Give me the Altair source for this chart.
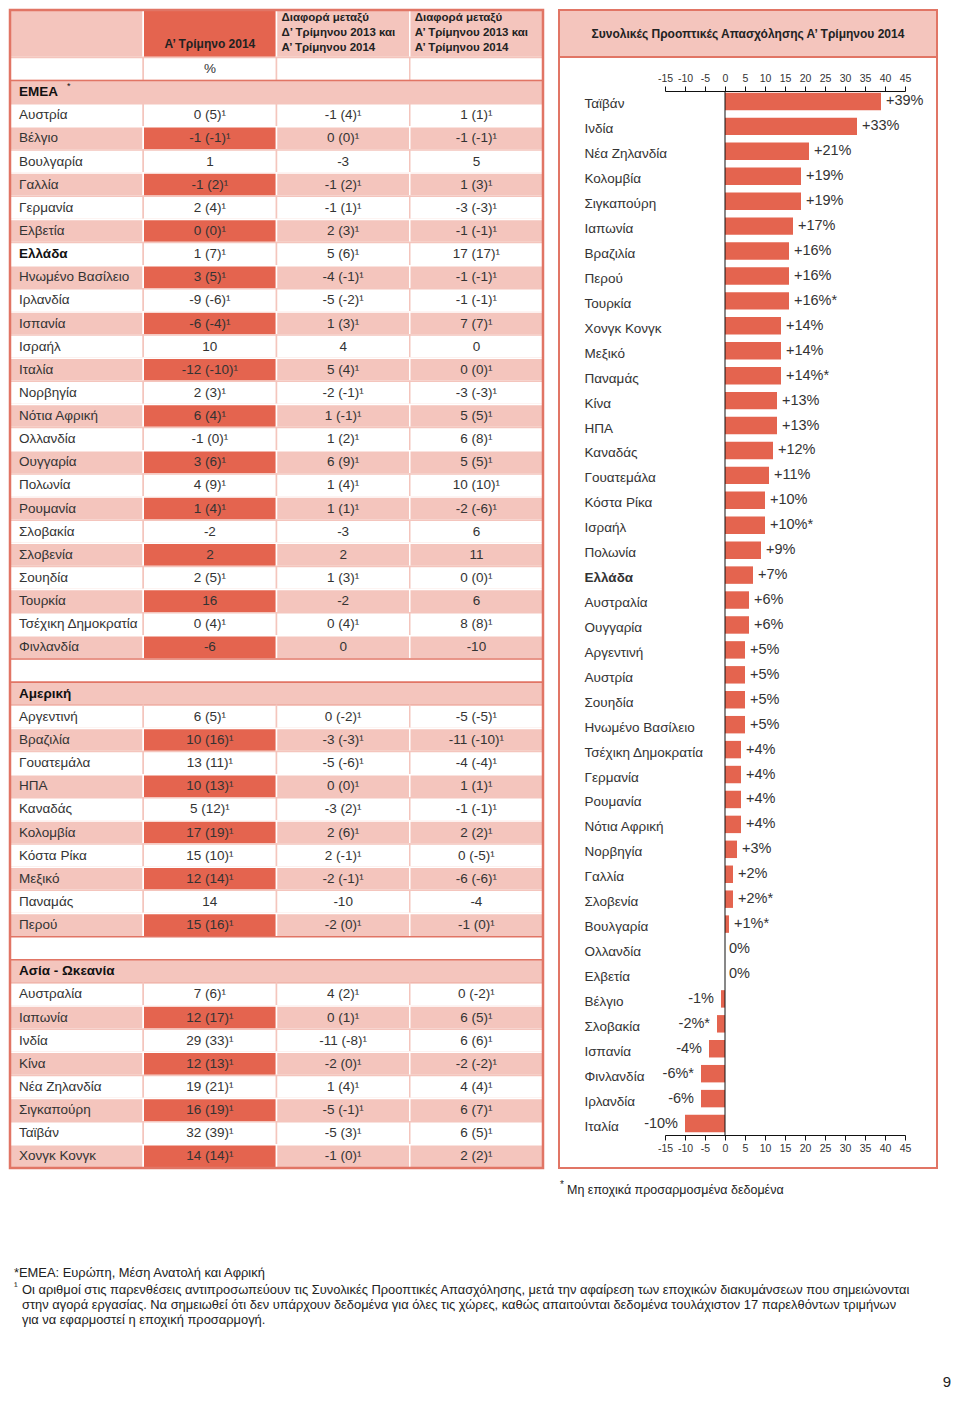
import altair as alt
import pandas as pd

FONT = "Liberation Sans"
DARK = "#E4644F"
PINK = "#F4C5BD"
RED = "#E17565"
TXT = "#333333"
WHITE = "#FFFFFF"

# ------------------------------------------------------------------ table data
section_names = ["EMEA", "Αμερική", "Ασία - Ωκεανία"]

emea_countries = ["Αυστρία", "Βέλγιο", "Βουλγαρία", "Γαλλία", "Γερμανία", "Ελβετία", "Ελλάδα",
                  "Ηνωμένο Βασίλειο", "Ιρλανδία", "Ισπανία", "Ισραήλ", "Ιταλία", "Νορβηγία",
                  "Νότια Αφρική", "Ολλανδία", "Ουγγαρία", "Πολωνία", "Ρουμανία", "Σλοβακία",
                  "Σλοβενία", "Σουηδία", "Τουρκία", "Τσέχικη Δημοκρατία", "Φινλανδία"]
emea_q1_2014 = ["0 (5)¹", "-1 (-1)¹", "1", "-1 (2)¹", "2 (4)¹", "0 (0)¹", "1 (7)¹", "3 (5)¹",
                "-9 (-6)¹", "-6 (-4)¹", "10", "-12 (-10)¹", "2 (3)¹", "6 (4)¹", "-1 (0)¹", "3 (6)¹",
                "4 (9)¹", "1 (4)¹", "-2", "2", "2 (5)¹", "16", "0 (4)¹", "-6"]
emea_diff_q4 = ["-1 (4)¹", "0 (0)¹", "-3", "-1 (2)¹", "-1 (1)¹", "2 (3)¹", "5 (6)¹", "-4 (-1)¹",
                "-5 (-2)¹", "1 (3)¹", "4", "5 (4)¹", "-2 (-1)¹", "1 (-1)¹", "1 (2)¹", "6 (9)¹",
                "1 (4)¹", "1 (1)¹", "-3", "2", "1 (3)¹", "-2", "0 (4)¹", "0"]
emea_diff_q1 = ["1 (1)¹", "-1 (-1)¹", "5", "1 (3)¹", "-3 (-3)¹", "-1 (-1)¹", "17 (17)¹", "-1 (-1)¹",
                "-1 (-1)¹", "7 (7)¹", "0", "0 (0)¹", "-3 (-3)¹", "5 (5)¹", "6 (8)¹", "5 (5)¹",
                "10 (10)¹", "-2 (-6)¹", "6", "11", "0 (0)¹", "6", "8 (8)¹", "-10"]

amer_countries = ["Αργεντινή", "Βραζιλία", "Γουατεμάλα", "ΗΠΑ", "Καναδάς", "Κολομβία",
                  "Κόστα Ρίκα", "Μεξικό", "Παναμάς", "Περού"]
amer_q1_2014 = ["6 (5)¹", "10 (16)¹", "13 (11)¹", "10 (13)¹", "5 (12)¹", "17 (19)¹", "15 (10)¹",
                "12 (14)¹", "14", "15 (16)¹"]
amer_diff_q4 = ["0 (-2)¹", "-3 (-3)¹", "-5 (-6)¹", "0 (0)¹", "-3 (2)¹", "2 (6)¹", "2 (-1)¹",
                "-2 (-1)¹", "-10", "-2 (0)¹"]
amer_diff_q1 = ["-5 (-5)¹", "-11 (-10)¹", "-4 (-4)¹", "1 (1)¹", "-1 (-1)¹", "2 (2)¹", "0 (-5)¹",
                "-6 (-6)¹", "-4", "-1 (0)¹"]

asia_countries = ["Αυστραλία", "Ιαπωνία", "Ινδία", "Κίνα", "Νέα Ζηλανδία", "Σιγκαπούρη",
                  "Ταϊβάν", "Χονγκ Κονγκ"]
asia_q1_2014 = ["7 (6)¹", "12 (17)¹", "29 (33)¹", "12 (13)¹", "19 (21)¹", "16 (19)¹", "32 (39)¹",
                "14 (14)¹"]
asia_diff_q4 = ["4 (2)¹", "0 (1)¹", "-11 (-8)¹", "-2 (0)¹", "1 (4)¹", "-5 (-1)¹", "-5 (3)¹",
                "-1 (0)¹"]
asia_diff_q1 = ["0 (-2)¹", "6 (5)¹", "6 (6)¹", "-2 (-2)¹", "4 (4)¹", "6 (7)¹", "6 (5)¹", "2 (2)¹"]

col_headers = ["", ["Α’ Τρίμηνο 2014"],
               ["Διαφορά μεταξύ", "Δ’ Τρίμηνου 2013 και", "Α’ Τρίμηνου 2014"],
               ["Διαφορά μεταξύ", "Α’ Τρίμηνου 2013 και", "Α’ Τρίμηνου 2014"]]
unit_label = "%"
bold_country = "Ελλάδα"

# ------------------------------------------------------------------ bar data
bar_title = "Συνολικές Προοπτικές Απασχόλησης Α’ Τρίμηνου 2014"
bar_countries = ["Ταϊβάν", "Ινδία", "Νέα Ζηλανδία", "Κολομβία", "Σιγκαπούρη", "Ιαπωνία",
                 "Βραζιλία", "Περού", "Τουρκία", "Χονγκ Κονγκ", "Μεξικό", "Παναμάς", "Κίνα", "ΗΠΑ",
                 "Καναδάς", "Γουατεμάλα", "Κόστα Ρίκα", "Ισραήλ", "Πολωνία", "Ελλάδα", "Αυστραλία",
                 "Ουγγαρία", "Αργεντινή", "Αυστρία", "Σουηδία", "Ηνωμένο Βασίλειο",
                 "Τσέχικη Δημοκρατία", "Γερμανία", "Ρουμανία", "Νότια Αφρική", "Νορβηγία", "Γαλλία",
                 "Σλοβενία", "Βουλγαρία", "Ολλανδία", "Ελβετία", "Βέλγιο", "Σλοβακία", "Ισπανία",
                 "Φινλανδία", "Ιρλανδία", "Ιταλία"]
bar_values = [39, 33, 21, 19, 19, 17, 16, 16, 16, 14, 14, 14, 13, 13, 12, 11, 10, 10, 9, 7, 6, 6,
              5, 5, 5, 5, 4, 4, 4, 4, 3, 2, 2, 1, 0, 0, -1, -2, -4, -6, -6, -10]
bar_not_adjusted = ["Τουρκία", "Παναμάς", "Ισραήλ", "Σλοβενία", "Βουλγαρία", "Σλοβακία", "Φινλανδία"]
x_ticks = [-15, -10, -5, 0, 5, 10, 15, 20, 25, 30, 35, 40, 45]

note_star = "Μη εποχικά προσαρμοσμένα δεδομένα"
foot_lines = [
    "*ΕΜΕΑ: Ευρώπη, Μέση Ανατολή και Αφρική",
    "Οι αριθμοί στις παρενθέσεις αντιπροσωπεύουν τις Συνολικές Προοπτικές Απασχόλησης, μετά την αφαίρεση των εποχικών διακυμάνσεων που σημειώνονται",
    "στην αγορά εργασίας. Να σημειωθεί ότι δεν υπάρχουν δεδομένα για όλες τις χώρες, καθώς απαιτούνται δεδομένα τουλάχιστον 17 παρελθόντων τριμήνων",
    "για να εφαρμοστεί η εποχική προσαρμογή.",
]
page_number = "9"

# ------------------------------------------------------------------ table build
HDR = 2.05
TW, TH = 533, 1158

groups = [
    (section_names[0], emea_countries, emea_q1_2014, emea_diff_q4, emea_diff_q1),
    (section_names[1], amer_countries, amer_q1_2014, amer_diff_q4, amer_diff_q1),
    (section_names[2], asia_countries, asia_q1_2014, asia_diff_q4, asia_diff_q1),
]
rows = [{"kind": "unit"}]
for g, (sec, names, a, b, c) in enumerate(groups):
    if g > 0:
        rows.append({"kind": "blank"})
    rows.append({"kind": "section", "label": sec})
    for k, n in enumerate(names):
        rows.append({"kind": "data", "label": n, "vals": [a[k], b[k], c[k]], "shade": k % 2 == 1})
NROWS = len(rows)
ROW_PX = TH / (NROWS + HDR)

cells, labels, values = [], [], []
for j in range(4):
    cells.append(dict(x0=j, x1=j + 1, y0=-HDR, y1=0, fill=DARK if j == 1 else PINK, stroke=WHITE))
for i, r in enumerate(rows):
    if r["kind"] in ("section", "blank"):
        cells.append(dict(x0=0, x1=4, y0=i, y1=i + 1,
                          fill=PINK if r["kind"] == "section" else WHITE, stroke=RED))
        if r["kind"] == "section":
            labels.append(dict(x=0, y=i + 0.5, text=r["label"], bold=True))
    elif r["kind"] == "unit":
        for j in range(4):
            cells.append(dict(x0=j, x1=j + 1, y0=i, y1=i + 1, fill=WHITE, stroke=PINK))
        values.append(dict(x=1.5, y=i + 0.5, text=unit_label))
    else:
        for j in range(4):
            if r["shade"]:
                f, s = (DARK if j == 1 else PINK), WHITE
            else:
                f, s = WHITE, PINK
            cells.append(dict(x0=j, x1=j + 1, y0=i, y1=i + 1, fill=f, stroke=s))
        labels.append(dict(x=0, y=i + 0.5, text=r["label"], bold=r["label"] == bold_country))
        for j, v in enumerate(r["vals"]):
            values.append(dict(x=j + 1.5, y=i + 0.5, text=v))

# header lines: stacked upward from the header's bottom edge (15 px apart, last 9 px up)
hdr_rows = []
hdr_rows.append(dict(x=1.5, y=-13 / ROW_PX, text=col_headers[1][0], align="center"))
for j in (2, 3):
    n = len(col_headers[j])
    for k, line in enumerate(col_headers[j]):
        up = 9 + 15 * (n - 1 - k)
        hdr_rows.append(dict(x=j, y=-up / ROW_PX, text=line, align="left"))

cells_df = pd.DataFrame(cells)
labels_df = pd.DataFrame(labels)
values_df = pd.DataFrame(values)
hdr_df = pd.DataFrame(hdr_rows)
emea_row = next(i for i, r in enumerate(rows) if r.get("label") == section_names[0])

xs = alt.Scale(domain=[0, 4], nice=False, zero=False)
ys = alt.Scale(domain=[-HDR, NROWS], nice=False, zero=False, reverse=True)


def X(f):
    return alt.X(f, type="quantitative", scale=xs, axis=None)


def Y(f):
    return alt.Y(f, type="quantitative", scale=ys, axis=None)


t_rects = alt.Chart(cells_df).mark_rect(strokeWidth=1.5).encode(
    x=X("x0"), x2="x1:Q", y=Y("y0"), y2="y1:Q",
    fill=alt.Fill("fill:N", scale=None), stroke=alt.Stroke("stroke:N", scale=None))

t_lab = alt.Chart(labels_df).transform_filter("!datum.bold").mark_text(
    align="left", baseline="middle", dx=9, fontSize=13.5, color=TXT).encode(
    x=X("x"), y=Y("y"), text="text:N")
t_labb = alt.Chart(labels_df).transform_filter("datum.bold").mark_text(
    align="left", baseline="middle", dx=9, fontSize=13.5, fontWeight="bold", color="#111").encode(
    x=X("x"), y=Y("y"), text="text:N")
t_star = alt.Chart(pd.DataFrame([{"x": 0, "y": emea_row + 0.5, "text": "*"}])).mark_text(
    align="left", baseline="middle", dx=57, dy=-6, fontSize=9, color="#111").encode(
    x=X("x"), y=Y("y"), text="text:N")
t_val = alt.Chart(values_df).mark_text(
    align="center", baseline="middle", fontSize=13.5, color=TXT).encode(
    x=X("x"), y=Y("y"), text="text:N")

t_h1 = alt.Chart(hdr_df).transform_filter("datum.align == 'center'").mark_text(
    align="center", baseline="middle", fontSize=12, fontWeight="bold", color="#222").encode(
    x=X("x"), y=Y("y"), text="text:N")
t_h23 = alt.Chart(hdr_df).transform_filter("datum.align == 'left'").mark_text(
    align="left", baseline="middle", dx=5, fontSize=11.5, fontWeight="bold", color="#222").encode(
    x=X("x"), y=Y("y"), text="text:N")
t_frame = alt.Chart(pd.DataFrame([{"a": 0, "b": 4, "c": -HDR, "d": NROWS}])).mark_rect(
    fillOpacity=0, stroke=RED, strokeWidth=2.5).encode(
    x=X("a"), x2="b:Q", y=Y("c"), y2="d:Q")

# footnotes (annotation text, placed relative to the table panel's origin)
foot_items = [
    {"x": 4, "y": 1263, "text": foot_lines[0], "s": 12.9, "a": "left"},
    {"x": 4, "y": 1277, "text": "¹", "s": 11, "a": "left"},
    {"x": 12, "y": 1280, "text": foot_lines[1], "s": 12.9, "a": "left"},
    {"x": 12, "y": 1295, "text": foot_lines[2], "s": 12.9, "a": "left"},
    {"x": 12, "y": 1310, "text": foot_lines[3], "s": 12.9, "a": "left"},
    {"x": 941, "y": 1372, "text": page_number, "s": 15, "a": "right"},
]
foot_layers = [
    alt.Chart(pd.DataFrame([{"t": it["text"]}])).mark_text(
        align=it["a"], baseline="middle", fontSize=it["s"], color="#222").encode(
        text="t:N", x=alt.value(it["x"]), y=alt.value(it["y"]))
    for it in foot_items
]

table = alt.layer(t_rects, t_lab, t_labb, t_star, t_val, t_h1, t_h23, t_frame,
                  *foot_layers).properties(width=TW, height=TH)

# ------------------------------------------------------------------ bar panel
BW, BH, HEAD = 378, 1158, 47


def fmt(v, c):
    s = ("+" if v > 0 else "") + f"{v}%"
    return s + ("*" if c in bar_not_adjusted else "")


bars_df = pd.DataFrame({"country": bar_countries, "value": bar_values})
bars_df["label"] = [fmt(v, c) for v, c in zip(bar_values, bar_countries)]

bx = alt.Scale(domain=[-15, 45], range=[106, 346], nice=False, zero=False)
by = alt.Scale(domain=bar_countries, range=[79, 1126], paddingInner=0.3, paddingOuter=0.15)

axis_common = dict(values=x_ticks, grid=False, title=None, domainColor="#111", tickColor="#111",
                   tickSize=5, labelPadding=3, labelFontSize=10.5, labelColor=TXT, labelFont=FONT,
                   domainWidth=1, labelFlush=False, labelOverlap=False,
                   labelExpr="'' + datum.value")
top_axis = alt.Axis(orient="top", offset=-81, **axis_common)
bottom_axis = alt.Axis(orient="bottom", offset=-33, **axis_common)
y_axis = alt.Axis(orient="left", offset=-25, labelAlign="left", labelPadding=0, ticks=False,
                  tickSize=0, domain=False, title=None, labelFontSize=13.5, labelColor=TXT,
                  labelFont=FONT, labelOffset=3, labelLimit=300,
                  labelFontWeight={"condition": {"test": f"datum.value === '{bold_country}'",
                                                 "value": "bold"}, "value": "normal"})

b_head = alt.Chart(pd.DataFrame([{"t": bar_title}])).mark_rect(
    fill=PINK, stroke=RED, strokeWidth=2).encode(
    x=alt.value(0), x2=alt.value(BW), y=alt.value(0), y2=alt.value(HEAD))
b_title = alt.Chart(pd.DataFrame([{"t": bar_title}])).mark_text(
    align="center", baseline="middle", fontSize=12, fontWeight="bold", color="#222").encode(
    text="t:N", x=alt.value(BW / 2), y=alt.value(24))
b_bars = alt.Chart(bars_df).mark_bar(color=DARK).encode(
    x=alt.X("value:Q", scale=bx, axis=top_axis), x2=alt.datum(0),
    y=alt.Y("country:N", sort=bar_countries, scale=by, axis=y_axis))
b_axis2 = alt.Chart(bars_df).mark_bar(opacity=0).encode(
    x=alt.X("value:Q", scale=bx, axis=bottom_axis),
    y=alt.Y("country:N", sort=bar_countries, scale=by, axis=None))
b_zero = alt.Chart(pd.DataFrame([{"z": 0}])).mark_rule(color="#111", strokeWidth=1).encode(
    x=alt.X("z:Q", scale=bx, axis=None), y=alt.value(81), y2=alt.value(1125))


def value_text(cond, align, dx):
    return alt.Chart(bars_df).transform_filter(cond).mark_text(
        align=align, baseline="middle", dx=dx, fontSize=14.5, color=TXT).encode(
        x=alt.X("value:Q", scale=bx, axis=None),
        y=alt.Y("country:N", sort=bar_countries, scale=by, axis=None), text="label:N")


b_pos = value_text("datum.value > 0", "left", 5)
b_zer = value_text("datum.value == 0", "left", 4)
b_neg = value_text("datum.value < 0", "right", -7)

b_note_star = alt.Chart(pd.DataFrame([{"t": "*"}])).mark_text(
    align="left", baseline="middle", fontSize=10, color="#222").encode(
    text="t:N", x=alt.value(1), y=alt.value(1175))
b_note = alt.Chart(pd.DataFrame([{"t": note_star}])).mark_text(
    align="left", baseline="middle", fontSize=12.5, color="#222").encode(
    text="t:N", x=alt.value(8), y=alt.value(1180))

right = alt.layer(b_head, b_title, b_bars, b_axis2, b_zero, b_pos, b_zer, b_neg,
                  b_note_star, b_note).resolve_axis(x="independent", y="independent").properties(
    width=BW, height=BH, view=alt.ViewBackground(fill=WHITE, stroke=RED, strokeWidth=2))

chart = alt.hconcat(table, right, spacing=16).properties(bounds="flush", padding=0).configure(
    font=FONT).configure_view(strokeWidth=0)

chart.save("out.html", embed_options={"renderer": "svg", "actions": False})
